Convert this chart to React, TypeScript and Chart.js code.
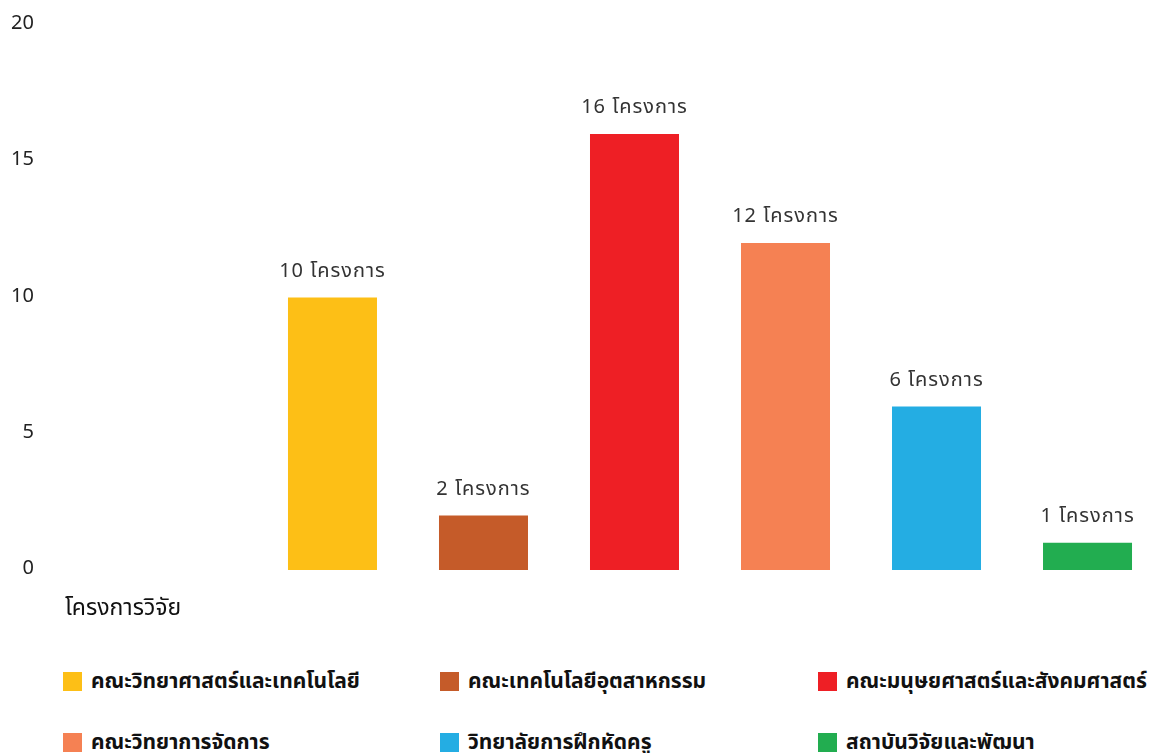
import React, { useEffect, useRef } from "react";
import { Chart, registerables } from "chart.js";

Chart.register(...registerables);

const categories = ["โครงการวิจัย"];
const seriesNames = [
  "คณะวิทยาศาสตร์และเทคโนโลยี",
  "คณะเทคโนโลยีอุตสาหกรรม",
  "คณะมนุษยศาสตร์และสังคมศาสตร์",
  "คณะวิทยาการจัดการ",
  "วิทยาลัยการฝึกหัดครู",
  "สถาบันวิจัยและพัฒนา",
];
const seriesValues = [10, 2, 16, 12, 6, 1];
const seriesColors = ["#FDBF16", "#C55B29", "#EE1F25", "#F58153", "#24ADE3", "#22AD50"];
const yTicks = [0, 5, 10, 15, 20];
const unit = "โครงการ";

const FONT = "Tahoma, 'Noto Sans Thai', Loma, Garuda, 'Noto Sans', 'DejaVu Sans', sans-serif";

const labelPlugin = {
  id: "barLabels",
  afterDatasetsDraw(chart: any) {
    const ctx = chart.ctx;
    ctx.save();
    ctx.font = `20px ${FONT}`;
    try {
      ctx.letterSpacing = "1px";
    } catch (e) {}
    ctx.fillStyle = "#333333";
    ctx.textAlign = "center";
    ctx.textBaseline = "middle";
    chart.data.datasets.forEach((ds: any, i: number) => {
      const meta = chart.getDatasetMeta(i);
      meta.data.forEach((bar: any, j: number) => {
        ctx.fillText(`${ds.data[j]} ${unit}`, bar.x, bar.y - 25);
      });
    });
    ctx.restore();
  },
};

export default function App() {
  const ref = useRef<HTMLCanvasElement | null>(null);
  useEffect(() => {
    if (!ref.current) return;
    const chart = new Chart(ref.current, {
      type: "bar",
      data: {
        labels: categories,
        datasets: seriesNames.map((name, i) => ({
          label: name,
          data: [seriesValues[i]],
          backgroundColor: seriesColors[i],
          borderWidth: 0,
          categoryPercentage: 1.0112,
          barPercentage: 0.5894,
        })),
      },
      options: {
        animation: false,
        responsive: false,
        maintainAspectRatio: false,
        layout: { padding: { top: 25, bottom: 30, left: 0, right: 0 } },
        plugins: { legend: { display: false }, tooltip: { enabled: false } },
        scales: {
          x: { display: false },
          y: {
            min: 0,
            max: 20,
            afterFit: (s: any) => {
              s.width = 262;
              s.paddingTop = 0;
              s.paddingBottom = 0;
            },
            afterBuildTicks: (s: any) => {
              s.ticks = yTicks.map((v) => ({ value: v }));
            },
            grid: { display: false, drawTicks: false },
            border: { display: false },
            ticks: {
              padding: 228,
              color: "#222222",
              font: { size: 20, family: FONT },
            },
          },
        },
      },
      plugins: [labelPlugin],
    });
    return () => chart.destroy();
  }, []);

  return (
    <div style={{ position: "absolute", left: 0, top: 0, width: 1158, height: 753, background: "#fff", fontFamily: FONT }}>
      <canvas ref={ref} width={1158} height={600} style={{ position: "absolute", left: 0, top: 0, width: 1158, height: 600 }} />
      <div style={{ position: "absolute", left: 65, top: 593, fontSize: 23, color: "#111", lineHeight: "30px" }}>
        {categories[0]}
      </div>
      {seriesNames.map((name, i) => {
        const col = i % 3;
        const row = Math.floor(i / 3);
        const left = [63, 440, 818][col];
        const top = [681, 742][row];
        return (
          <div key={name} style={{ position: "absolute", left, top: top - 15, height: 30, display: "flex", alignItems: "center", whiteSpace: "nowrap" }}>
            <span style={{ display: "inline-block", width: 19, height: 19, background: seriesColors[i], marginRight: 9 }} />
            <span style={{ fontSize: 21, fontWeight: "bold", color: "#111" }}>{name}</span>
          </div>
        );
      })}
    </div>
  );
}
